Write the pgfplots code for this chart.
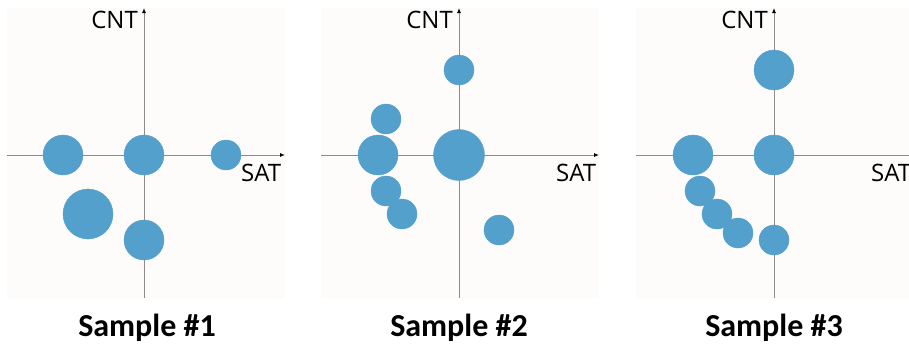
\documentclass[border=0pt]{standalone}
\usepackage{pgfplots}
\pgfplotsset{compat=1.18}
\usepackage{fontspec}
\setmainfont{Open Sans}
\newfontfamily\titlefont{Carlito}
\usetikzlibrary{arrows.meta}
\definecolor{bub}{RGB}{84,160,204}
\definecolor{axgray}{RGB}{140,140,140}
\definecolor{panelbg}{RGB}{253,252,250}

\pgfplotstableread{
x y r
-81 0 20
0 0 20
82 0 15
-56 -59 25
0 -85 20
}\sampleone
\pgfplotstableread{
x y r
0 85 15
-73 36 15
-81 0 20
0 0 25.5
-73 -36 15
-57 -59 15
40 -75 15
}\sampletwo
\pgfplotstableread{
x y r
0 85 20
-81 0 20
0 0 20
-74 -36 15
-57 -59 15
-36 -78 15
0 -85 15
}\samplethree

\pgfplotsset{
  panel/.style={
    scale only axis, width=278pt, height=290pt,
    ymin=-143, ymax=147,
    axis lines=middle,
    axis background/.style={fill=panelbg},
    xtick=\empty, ytick=\empty,
    x axis line style={draw=axgray, line width=0.9pt, -{Latex[length=5pt,width=4pt,color=black]}},
    y axis line style={draw=axgray, line width=0.9pt, -{Latex[length=5pt,width=4pt,color=black]}},
    clip=false,
  },
  bubbles/.style={
    scatter, only marks, mark=*,
    scatter/use mapped color={draw=bub, fill=bub},
    visualization depends on={\thisrow{r} \as \perpointmarksize},
    scatter/@pre marker code/.append style={/tikz/mark size=\perpointmarksize},
  },
}

\begin{document}
\begin{tikzpicture}
\begin{axis}[panel, at={(7pt,51pt)}, anchor=south west, xmin=-137, xmax=141]
  \addplot[bubbles] table[x=x,y=y] {\sampleone};
  \node[anchor=base east, inner sep=0pt, font=\fontsize{24}{24}\selectfont] at (axis cs:-6,127) {CNT};
  \node[anchor=base west, inner sep=0pt, font=\fontsize{24}{24}\selectfont] at (axis cs:97,-26) {SAT};
  \node[anchor=base, inner sep=0pt, font=\titlefont\bfseries\fontsize{32}{32}\selectfont] at (axis cs:3,-181) {Sample \#1};
\end{axis}
\begin{axis}[panel, at={(321pt,51pt)}, anchor=south west, xmin=-138, xmax=140]
  \addplot[bubbles] table[x=x,y=y] {\sampletwo};
  \node[anchor=base east, inner sep=0pt, font=\fontsize{24}{24}\selectfont] at (axis cs:-6,127) {CNT};
  \node[anchor=base west, inner sep=0pt, font=\fontsize{24}{24}\selectfont] at (axis cs:97,-26) {SAT};
  \node[anchor=base, inner sep=0pt, font=\titlefont\bfseries\fontsize{32}{32}\selectfont] at (axis cs:0,-181) {Sample \#2};
\end{axis}
\begin{axis}[panel, at={(636pt,51pt)}, anchor=south west, xmin=-138, xmax=140]
  \addplot[bubbles] table[x=x,y=y] {\samplethree};
  \node[anchor=base east, inner sep=0pt, font=\fontsize{24}{24}\selectfont] at (axis cs:-6,127) {CNT};
  \node[anchor=base west, inner sep=0pt, font=\fontsize{24}{24}\selectfont] at (axis cs:97,-26) {SAT};
  \node[anchor=base, inner sep=0pt, font=\titlefont\bfseries\fontsize{32}{32}\selectfont] at (axis cs:0,-181) {Sample \#3};
\end{axis}
\pgfresetboundingbox
\useasboundingbox (0pt,0pt) rectangle (909pt,349pt);
\end{tikzpicture}
\end{document}
